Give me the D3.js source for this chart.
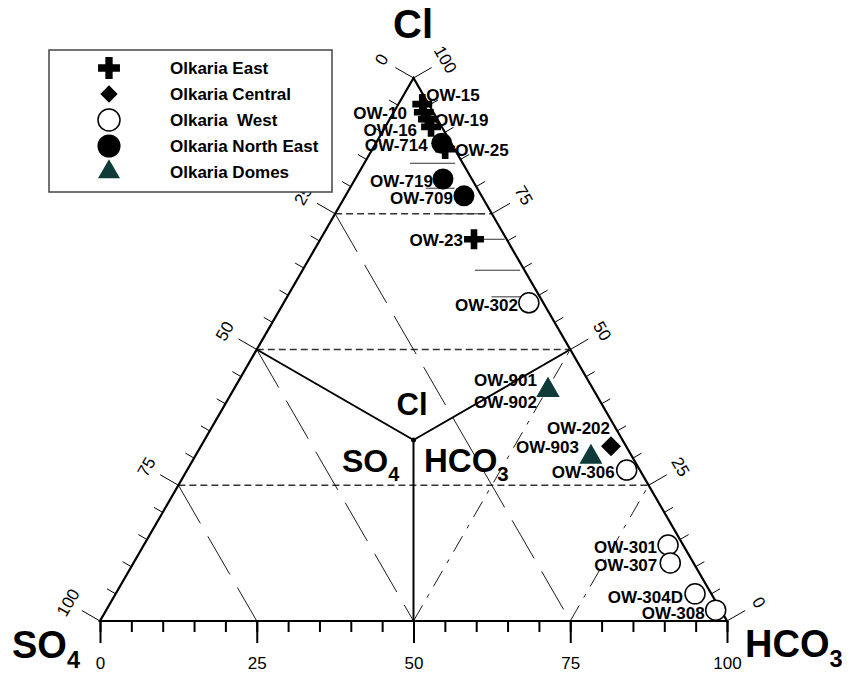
<!DOCTYPE html>
<html>
<head>
<meta charset="utf-8">
<script src="https://cdn.jsdelivr.net/npm/d3@7"></script>
<style>
  body { margin: 0; background: #fff; }
  svg { font-family: "Liberation Sans", Arial, Helvetica, sans-serif; }
</style>
</head>
<body>
<svg width="851" height="673"></svg>
<script>
var left = 100, right = 727, base = 621, apex = 78;

// legend groups
var groups = ["Olkaria East", "Olkaria Central", "Olkaria  West", "Olkaria North East", "Olkaria Domes"];

// wells (percent Cl / SO4 / HCO3)
var wellNames  = ["OW-15", "OW-10", "OW-19", "OW-16", "OW-25", "OW-23",
                  "OW-202",
                  "OW-302", "OW-306", "OW-301", "OW-307", "OW-304D", "OW-308",
                  "OW-714", "OW-719", "OW-709",
                  "OW-901", "OW-902", "OW-903"];
var wellGroups = [0, 0, 0, 0, 0, 0,
                  1,
                  2, 2, 2, 2, 2, 2,
                  3, 3, 3,
                  4, 4, 4];
var clValues   = [95.2, 93.7, 92.4, 91.0, 86.9, 70.3,
                  32.2,
                  58.6, 27.8, 14.0, 10.7, 5.0, 2.0,
                  88.0, 81.4, 78.3,
                  42.5, 42.5, 30.2];
var so4Values  = [1.0, 1.5, 1.5, 1.7, 1.5, 5.2,
                  2.4,
                  2.3, 2.1, 2.4, 3.7, 2.6, 0.8,
                  1.5, 4.6, 2.8,
                  7.3, 7.3, 6.6];
var hco3Values = [3.8, 4.8, 6.1, 7.3, 11.6, 24.5,
                  65.4,
                  39.1, 70.1, 83.6, 85.6, 92.4, 97.2,
                  10.5, 14.0, 18.9,
                  50.2, 50.2, 63.2];

// label placement next to each well: [dx, dy, anchor]
var labelPos = {
  "OW-15": [4, -9, "start"], "OW-10": [-17, 1, "end"], "OW-19": [7, 1, "start"],
  "OW-16": [-14, 3, "end"], "OW-25": [10, 1, "start"], "OW-23": [-11, 1, "end"],
  "OW-202": [-1, -18, "end"], "OW-302": [-11, 2, "end"], "OW-306": [-12, 2, "end"],
  "OW-301": [-11, 2, "end"], "OW-307": [-13, 2, "end"], "OW-304D": [-12, 3, "end"],
  "OW-308": [-11, 3, "end"], "OW-714": [-14, 2, "end"], "OW-719": [-10, 2, "end"],
  "OW-709": [-11, 2, "end"], "OW-901": [-11, -10, "end"], "OW-902": [-11, 12, "end"],
  "OW-903": [-12, -10, "end"]
};

// guide lines
var clGridLevels = [25, 50, 75];
var so4GridLevels = [25, 50, 75];
var hco3GridLevels = [50, 75];
var majorTicks = [0, 25, 50, 75, 100];
var minorTicks = d3.range(0, 101, 5);

// short leftover leader lines near the right edge (Cl level, HCO3 from, HCO3 to)
var leaderCl   = [84.3, 79.7, 75.0, 70.3, 64.6, 59.7];
var leaderFrom = [7.3, 12.1, 16.7, 25.9, 27.5, 32.6];
var leaderTo   = [14.5, 16.7, 23.9, 29.4, 34.7, 38.2];

var svg = d3.select("svg");

var xScale = d3.scaleLinear().domain([0, 100]).range([left, right]);
var clScale = d3.scaleLinear().domain([0, 100]).range([base, apex]);

function project(cl, so4, hco3) {
  var t = cl + so4 + hco3;
  var c = 100 * cl / t, h = 100 * hco3 / t;
  return [xScale(h + c / 2), clScale(c)];
}

var line = d3.line();

// horizontal Cl grid
clGridLevels.forEach(function(c) {
  svg.append("path")
    .attr("d", line([project(c, 100 - c, 0), project(c, 0, 100 - c)]))
    .attr("stroke", "#333").attr("stroke-width", 1.3)
    .attr("stroke-dasharray", "7,4").attr("fill", "none");
});

// SO4 grid (long dash)
so4GridLevels.forEach(function(s) {
  svg.append("path")
    .attr("d", line([project(100 - s, s, 0), project(0, s, 100 - s)]))
    .attr("stroke", "#000").attr("stroke-width", 0.9)
    .attr("stroke-dasharray", "44,15").attr("fill", "none");
});

// HCO3 grid (dash dot)
hco3GridLevels.forEach(function(h) {
  svg.append("path")
    .attr("d", line([project(0, 100 - h, h), project(100 - h, 0, h)]))
    .attr("stroke", "#000").attr("stroke-width", 0.9)
    .attr("stroke-dasharray", "18,9,4,9").attr("fill", "none");
});

// field boundaries
var centre = project(1, 1, 1);
[[50, 50, 0], [50, 0, 50], [0, 50, 50]].forEach(function(p) {
  svg.append("path")
    .attr("d", line([centre, project(p[0], p[1], p[2])]))
    .attr("stroke", "#000").attr("stroke-width", 2).attr("fill", "none");
});
svg.append("circle").attr("cx", centre[0]).attr("cy", centre[1]).attr("r", 2.5).attr("fill", "#000");

// triangle
svg.append("path")
  .attr("d", line([project(100, 0, 0), project(0, 100, 0), project(0, 0, 100)]) + "Z")
  .attr("stroke", "#000").attr("stroke-width", 2.2).attr("fill", "none");

// bottom axis (HCO3)
var axisG = svg.append("g").attr("transform", "translate(0," + base + ")");
axisG.append("g")
  .call(d3.axisBottom(xScale).tickValues(minorTicks).tickSize(11).tickSizeOuter(0).tickFormat(""))
  .call(function(g) { g.select(".domain").remove(); g.selectAll("line").attr("stroke-width", 2); });
axisG.append("g")
  .call(d3.axisBottom(xScale).tickValues(majorTicks).tickSize(22).tickSizeOuter(0).tickPadding(14))
  .call(function(g) {
    g.select(".domain").remove();
    g.selectAll("line").attr("stroke-width", 2);
    g.selectAll("text").attr("font-size", 17).attr("font-family", "Liberation Sans, Arial, sans-serif");
  });

// side axes
var cos30 = Math.cos(Math.PI / 6), sin30 = 0.5;
minorTicks.forEach(function(v) {
  var len = v % 25 === 0 ? 21 : 10;
  // left edge: SO4
  var pl = project(100 - v, v, 0);
  svg.append("line").attr("x1", pl[0]).attr("y1", pl[1])
    .attr("x2", pl[0] - len * cos30).attr("y2", pl[1] - len * sin30)
    .attr("stroke", "#000").attr("stroke-width", 1);
  // right edge: Cl
  var pr = project(v, 0, 100 - v);
  svg.append("line").attr("x1", pr[0]).attr("y1", pr[1])
    .attr("x2", pr[0] + len * cos30).attr("y2", pr[1] - len * sin30)
    .attr("stroke", "#000").attr("stroke-width", 1);
});
majorTicks.forEach(function(v) {
  var pl = project(100 - v, v, 0);
  var lx = pl[0] - 37 * cos30, ly = pl[1] - 37 * sin30;
  svg.append("text").attr("x", lx).attr("y", ly).attr("dy", "0.35em")
    .attr("text-anchor", "middle").attr("font-size", 17)
    .attr("transform", "rotate(-60," + lx + "," + ly + ")").text(v);
  var pr = project(v, 0, 100 - v);
  var rx = pr[0] + 37 * cos30, ry = pr[1] - 37 * sin30;
  svg.append("text").attr("x", rx).attr("y", ry).attr("dy", "0.35em")
    .attr("text-anchor", "middle").attr("font-size", 17)
    .attr("transform", "rotate(60," + rx + "," + ry + ")").text(v);
});

// leader lines
leaderCl.forEach(function(c, i) {
  svg.append("path")
    .attr("d", line([project(c, 100 - c - leaderFrom[i], leaderFrom[i]), project(c, 100 - c - leaderTo[i], leaderTo[i])]))
    .attr("stroke", "#333").attr("stroke-width", 1).attr("fill", "none");
});

// symbols
var domesColor = "#0e3b37";
function drawSymbol(sel, g, big) {
  var k = big ? 1.1 : 1;
  if (g === 0) {
    sel.append("path").attr("d", d3.symbol(d3.symbolCross, 220 * k * k)()).attr("fill", "#000");
  } else if (g === 1) {
    sel.append("path").attr("d", d3.symbol(d3.symbolSquare, big ? 150 : 200)())
      .attr("transform", "rotate(45)").attr("fill", "#000");
  } else if (g === 2) {
    sel.append("circle").attr("r", 10 * k).attr("fill", "#fff").attr("stroke", "#000").attr("stroke-width", 1.5);
  } else if (g === 3) {
    sel.append("circle").attr("r", 10.5 * k).attr("fill", "#000");
  } else {
    sel.append("path").attr("d", d3.symbol(d3.symbolTriangle, big ? 210 : 230)()).attr("fill", domesColor);
  }
}

// labels
wellNames.forEach(function(name, i) {
  var p = project(clValues[i], so4Values[i], hco3Values[i]);
  var lp = labelPos[name];
  svg.append("text")
    .attr("x", p[0] + lp[0]).attr("y", p[1] + lp[1]).attr("dy", "0.35em")
    .attr("text-anchor", lp[2]).attr("font-size", 17).attr("font-weight", "bold")
    .text(name);
});

// points
wellNames.forEach(function(name, i) {
  var p = project(clValues[i], so4Values[i], hco3Values[i]);
  var g = svg.append("g").attr("transform", "translate(" + p[0] + "," + p[1] + ")");
  drawSymbol(g, wellGroups[i], false);
});

// legend
var legend = svg.append("g");
legend.append("rect").attr("x", 49).attr("y", 50).attr("width", 283).attr("height", 142)
  .attr("fill", "#fff").attr("stroke", "#444").attr("stroke-width", 1.5);
var legendY = d3.scalePoint().domain(groups).range([68, 172]);
groups.forEach(function(name, i) {
  var y = legendY(name);
  var s = legend.append("g").attr("transform", "translate(109," + y + ")");
  drawSymbol(s, i, true);
  legend.append("text").attr("x", 170).attr("y", y).attr("dy", "0.35em")
    .attr("font-size", 17).attr("font-weight", "bold")
    .attr("xml:space", "preserve").style("white-space", "pre").text(name);
});

// vertex and field titles
function title(x, y, main, sub, size, anchor) {
  var t = svg.append("text").attr("x", x).attr("y", y).attr("font-size", size)
    .attr("font-weight", "bold").attr("text-anchor", anchor || "start");
  t.append("tspan").text(main);
  if (sub) t.append("tspan").attr("font-size", size * 0.62).attr("dy", size * 0.27).text(sub);
}
title(413, 38, "Cl", null, 40, "middle");
title(12, 658, "SO", "4", 38);
title(745, 657, "HCO", "3", 38);
title(412, 415, "Cl", null, 31, "middle");
title(342, 472, "SO", "4", 32);
title(424, 472, "HCO", "3", 33);
</script>
</body>
</html>
